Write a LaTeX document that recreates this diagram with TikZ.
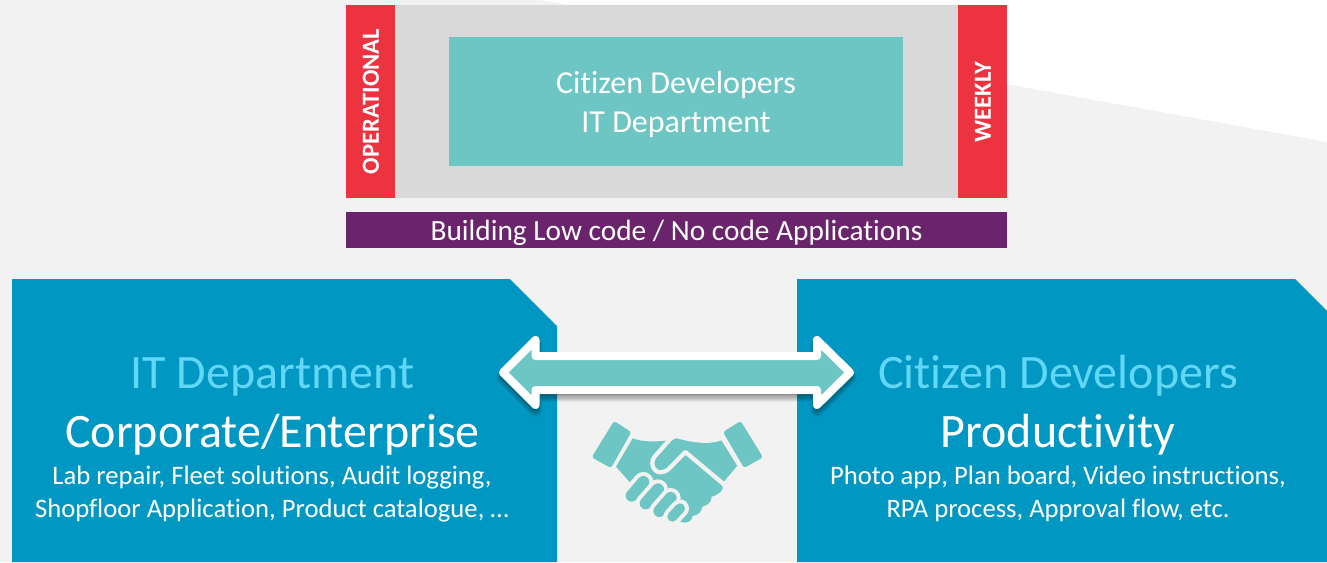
\documentclass[tikz,border=0pt]{standalone}
\usepackage{fontspec}
\setmainfont[Ligatures=NoCommon]{Carlito}
\usetikzlibrary{calc}
\definecolor{bgGray}{HTML}{F2F2F2}
\definecolor{panelGray}{HTML}{D9D9D9}
\definecolor{tealBox}{HTML}{6DC6C3}
\definecolor{redBar}{HTML}{ED333F}
\definecolor{purpleBar}{HTML}{6A246C}
\definecolor{blueBox}{HTML}{0097C3}
\definecolor{lightBlue}{HTML}{62D6F6}
\tikzset{
  x=0.75pt,y=-0.75pt,
  txt/.style={text=white,align=center,inner sep=0pt,font=\fontsize{#1}{#1}\selectfont},
  multi/.style 2 args={text=white,align=center,inner sep=0pt,font=\fontsize{#1}{#2}\selectfont},
  vert/.style={text=white,inner sep=0pt,rotate=90,font=\bfseries\fontsize{#1}{#1}\selectfont},
  finger/.style={line cap=round},
}
\newcommand{\arrowpath}{(503,372.5) -- (535.5,340) -- (535.5,356) -- (817,356) -- (817,340) -- (850,372.5) -- (817,405) -- (817,390) -- (535.5,390) -- (535.5,405) -- cycle}
\newcommand{\fingerstroke}[5]{%
  \draw[bgGray,finger,line width=#5pt+6pt] (#1,#2) -- (#3,#4);
  \draw[tealBox,finger,line width=#5pt] (#1,#2) -- (#3,#4);}
\begin{document}
\begin{tikzpicture}
\useasboundingbox (0,0) rectangle (1327,562);
\fill[white] (0,0) rectangle (1327,562);
\fill[bgGray] (0,0) -- (540,0) -- (1327,142) -- (1327,562) -- (0,562) -- cycle;
% top panel
\fill[panelGray] (346,5) rectangle (1007,198);
\fill[redBar] (346,5) rectangle (395,198);
\fill[redBar] (958,5) rectangle (1007,198);
\fill[tealBox] (449,37) rectangle (903,166);
\node[multi={24}{29.3}] (who) at (676,104) {Citizen Developers\\IT Department};
\node[vert=18.4] (op) at (371,101.5) {OPERATIONAL};
\node[vert=18.4] (wk) at (983,102) {WEEKLY};
\fill[purpleBar] (346,212) rectangle (1007,248);
\node[txt=22] (build) at (676.5,232.5) {Building Low code / No code Applications};
% blue boxes
\fill[blueBox] (12,279) -- (510,279) -- (557,326) -- (557,562) -- (12,562) -- cycle;
\fill[blueBox] (797,279) -- (1295,279) -- (1327,311) -- (1327,562) -- (797,562) -- cycle;
\node[txt=36,text=lightBlue] (itd) at (272.5,377) {IT Department};
\node[txt=36] (corp) at (272.5,435) {Corporate/Enterprise};
\node[multi={20}{24.5}] (ld) at (272,494) {Lab repair, Fleet solutions, Audit logging,\\Shopfloor Application, Product catalogue, \dots};
\node[txt=36,text=lightBlue] (cd) at (1058,376) {Citizen Developers};
\node[txt=36] (prod) at (1058,435) {Productivity};
\node[multi={20}{24.5}] (rd) at (1058,494) {Photo app, Plan board, Video instructions,\\RPA process, Approval flow, etc.};
% double arrow: soft shadow, then body
\foreach \w in {10,8,6,4}{
  \draw[black,opacity=.08,fill=black,fill opacity=.08,line width=\w pt,line join=round,shift={(0,5)}] \arrowpath;
}
\filldraw[fill=tealBox,draw=white,line width=6pt,line join=round] \arrowpath;
% handshake (coordinates in 1/3 pixel units)
\begin{scope}[shift={(540,320)},x=0.25pt,y=-0.25pt]
  % cuffs
  \fill[tealBox,rounded corners=2pt] (222,303) -- (274,336) -- (213,444) -- (155,412) -- cycle;
  \fill[tealBox,rounded corners=2pt] (602,303) -- (549,336) -- (612,444) -- (669,412) -- cycle;
  % left hand and palm
  \fill[tealBox] (278,355) .. controls (310,367) and (345,365) .. (377,362) -- (435,395) -- (548,492)
    .. controls (552,510) and (540,522) .. (515,530)
    .. controls (515,545) and (505,555) .. (487,560)
    .. controls (485,575) and (475,585) .. (458,588)
    .. controls (455,605) and (440,615) .. (415,602) -- (400,560) -- (270,487) -- (228,440) -- cycle;
  % right hand with thumb
  \filldraw[fill=tealBox,draw=bgGray,line width=3.2pt,line join=round]
    (547,353) .. controls (515,367) and (470,365) .. (410,348)
    .. controls (400,348) and (395,352) .. (388,360)
    -- (342,412) .. controls (328,435) and (345,462) .. (368,456)
    .. controls (378,454) and (383,450) .. (388,445)
    -- (436,396) -- (553,494) -- (600,438) -- cycle;
  % fingers
  \fingerstroke{275}{527}{310}{486}{9}
  \fingerstroke{317}{550}{354}{508}{9}
  \fingerstroke{358}{573}{392}{534}{9}
  \fingerstroke{397}{590}{420}{565}{7.5}
\end{scope}
\end{tikzpicture}
\end{document}
